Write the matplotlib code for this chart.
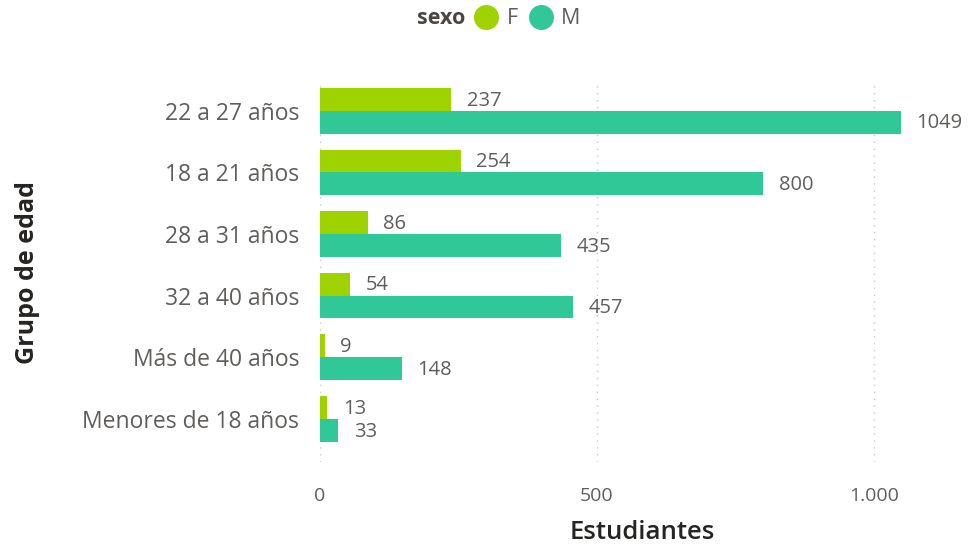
import numpy as np
import matplotlib.pyplot as plt
from matplotlib.lines import Line2D

grupos = ["22 a 27 años", "18 a 21 años", "28 a 31 años", "32 a 40 años",
          "Más de 40 años", "Menores de 18 años"]
f_vals = [237, 254, 86, 54, 9, 13]
m_vals = [1049, 800, 435, 457, 148, 33]
ticks = [0, 500, 1000]
tick_labels = ["0", "500", "1.000"]

col_f = "#9fd300"
col_m = "#31c897"
txt = "#605e5c"

plt.rcParams['font.family'] = ['Open Sans', 'DejaVu Sans']

fig = plt.figure(figsize=(9.68, 5.49), dpi=100)
ax = fig.add_axes([320/968, 1 - 462/549, 581/968, 382/549])

y = np.arange(len(grupos))
h = 0.37
ax.barh(y - h/2, f_vals, height=h, color=col_f)
ax.barh(y + h/2, m_vals, height=h, color=col_m)

# etiquetas de datos a la derecha de cada barra
for i in range(len(grupos)):
    ax.text(f_vals[i] + 28, y[i] - h/2 + 0.02, str(f_vals[i]), va='center', ha='left',
            fontsize=14.5, color=txt, clip_on=False)
    ax.text(m_vals[i] + 28, y[i] + h/2 + 0.02, str(m_vals[i]), va='center', ha='left',
            fontsize=14.5, color=txt, clip_on=False)

ax.set_xlim(0, 1049)
ax.set_ylim(len(grupos) - 0.5 + 0.2, -0.5)
ax.set_yticks(y)
ax.set_yticklabels(grupos, fontsize=16.5, color=txt)
ax.set_xticks(ticks)
ax.set_xticklabels(tick_labels, fontsize=14, color=txt)
ax.tick_params(length=0)
ax.tick_params(axis='y', pad=15)
ax.tick_params(axis='x', pad=18)
for s in ax.spines.values():
    s.set_visible(False)
ax.grid(axis='x', linestyle=(0, (1, 4)), color='#c8c8c8', linewidth=1)
ax.set_axisbelow(True)

ax.set_xlabel("Estudiantes", fontsize=18.5, color='#252423', fontweight='semibold')
ax.xaxis.set_label_coords((642 - 320) / 581, -0.152)
fig.text(28/968, 1 - 272/549, "Grupo de edad", rotation=90, fontsize=18,
         color='#252423', fontweight='bold', ha='center', va='center')

handles = [Line2D([], [], marker='o', linestyle='', markersize=17, color=col_f),
           Line2D([], [], marker='o', linestyle='', markersize=17, color=col_m)]
fig.text(441/968, 1 - 18/549, "sexo", fontsize=15.5, fontweight='bold',
         color='#4a4644', ha='center', va='center')
leg = fig.legend(handles, ["F", "M"], loc='center left', bbox_to_anchor=(466/968, 1 - 19/549),
                 ncol=2, frameon=False, fontsize=15.5, handletextpad=0.4,
                 columnspacing=0.5, borderaxespad=0, handlelength=1.1)
for t in leg.get_texts():
    t.set_color(txt)

fig.savefig("out.png", dpi=100)
